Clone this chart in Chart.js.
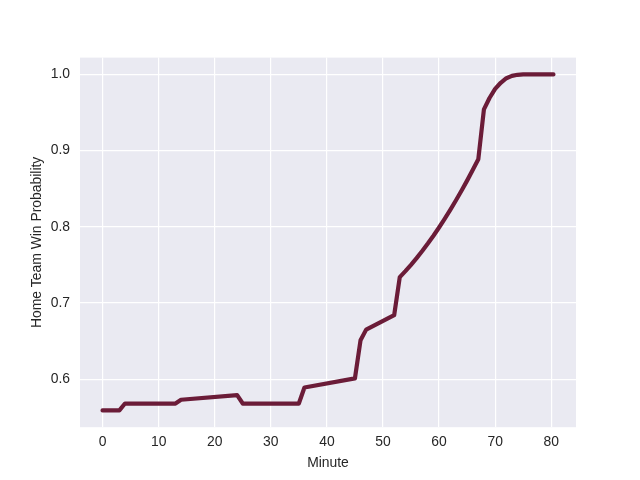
<!DOCTYPE html>
<html lang="en">
    <head>
        <meta charset="UTF-8" />
        <title>Home Team Win Probability</title>
        <script src="https://cdn.jsdelivr.net/npm/chart.js"></script>
        <style>
            body {
                margin: 0;
                background: #ffffff;
            }
        </style>
    </head>
    <body>
        <canvas id="myChart" width="640" height="480"></canvas>
        <script>
            // Values
            const minutes = [
                0, 3, 4, 13, 14, 24, 25, 35, 36, 45, 46, 47, 52, 53, 54, 55,
                56, 57, 58, 59, 60, 61, 62, 63, 64, 65, 66, 67, 68, 69, 70,
                71, 72, 73, 74, 75, 80.4,
            ];
            const winProb = [
                0.559, 0.559, 0.568, 0.568, 0.573, 0.579, 0.568, 0.568, 0.589,
                0.601, 0.651, 0.665, 0.684, 0.734, 0.7418, 0.7501, 0.7589,
                0.7682, 0.778, 0.7883, 0.7991, 0.8104, 0.8222, 0.8345, 0.8473,
                0.8606, 0.8744, 0.8887, 0.954, 0.969, 0.981, 0.989, 0.995,
                0.998, 0.9995, 1.0, 1.0,
            ];
            const xTicks = [0, 10, 20, 30, 40, 50, 60, 70, 80];
            const yTicks = [0.6, 0.7, 0.8, 0.9, 1.0];

            // matplotlib style 5% margins
            const xMin = Math.min(...minutes);
            const xMax = Math.max(...minutes);
            const yMin = Math.min(...winProb);
            const yMax = Math.max(...winProb);
            const xPad = (xMax - xMin) * 0.05;
            const yPad = (yMax - yMin) * 0.05;

            const textColor = "#262626";
            const font = { family: "'Liberation Sans', Arial, sans-serif", size: 13.9 };

            // grey plot background
            const panelBg = {
                id: "panelBg",
                beforeDraw(chart) {
                    const { ctx, chartArea } = chart;
                    ctx.save();
                    ctx.fillStyle = "#eaeaf2";
                    ctx.fillRect(
                        chartArea.left,
                        chartArea.top,
                        chartArea.right - chartArea.left,
                        chartArea.bottom - chartArea.top
                    );
                    ctx.restore();
                },
            };

            const ctx = document.getElementById("myChart").getContext("2d");
            const myChart = new Chart(ctx, {
                type: "line",
                data: {
                    datasets: [
                        {
                            data: minutes.map((m, i) => ({ x: m, y: winProb[i] })),
                            borderColor: "#6b1c38",
                            borderWidth: 4.2,
                            borderCapStyle: "round",
                            borderJoinStyle: "round",
                            pointRadius: 0,
                            tension: 0,
                            fill: false,
                        },
                    ],
                },
                options: {
                    responsive: false,
                    animation: false,
                    layout: {
                        padding: { top: 57.6, right: 64, left: 0, bottom: 0 },
                    },
                    plugins: {
                        legend: { display: false },
                        tooltip: { enabled: false },
                    },
                    scales: {
                        x: {
                            type: "linear",
                            min: xMin - xPad,
                            max: xMax + xPad,
                            afterBuildTicks: (scale) => {
                                scale.ticks = xTicks.map((v) => ({ value: v }));
                            },
                            afterFit: (scale) => {
                                scale.height = 52.8;
                            },
                            grid: {
                                color: "#ffffff",
                                lineWidth: 1.2,
                                drawTicks: false,
                            },
                            border: { display: false },
                            ticks: {
                                color: textColor,
                                font: font,
                                padding: 7,
                                maxRotation: 0,
                            },
                            title: {
                                display: true,
                                text: "Minute",
                                color: textColor,
                                font: font,
                                padding: { bottom: 8 },
                            },
                        },
                        y: {
                            type: "linear",
                            min: yMin - yPad,
                            max: yMax + yPad,
                            afterBuildTicks: (scale) => {
                                scale.ticks = yTicks.map((v) => ({ value: v }));
                            },
                            afterFit: (scale) => {
                                scale.width = 80;
                            },
                            grid: {
                                color: "#ffffff",
                                lineWidth: 1.2,
                                drawTicks: false,
                            },
                            border: { display: false },
                            ticks: {
                                color: textColor,
                                font: font,
                                padding: 10,
                                callback: (v) => v.toFixed(1),
                            },
                            title: {
                                display: true,
                                text: "Home Team Win Probability",
                                color: textColor,
                                font: font,
                                padding: { top: 28.7 },
                            },
                        },
                    },
                },
                plugins: [panelBg],
            });
        </script>
    </body>
</html>
